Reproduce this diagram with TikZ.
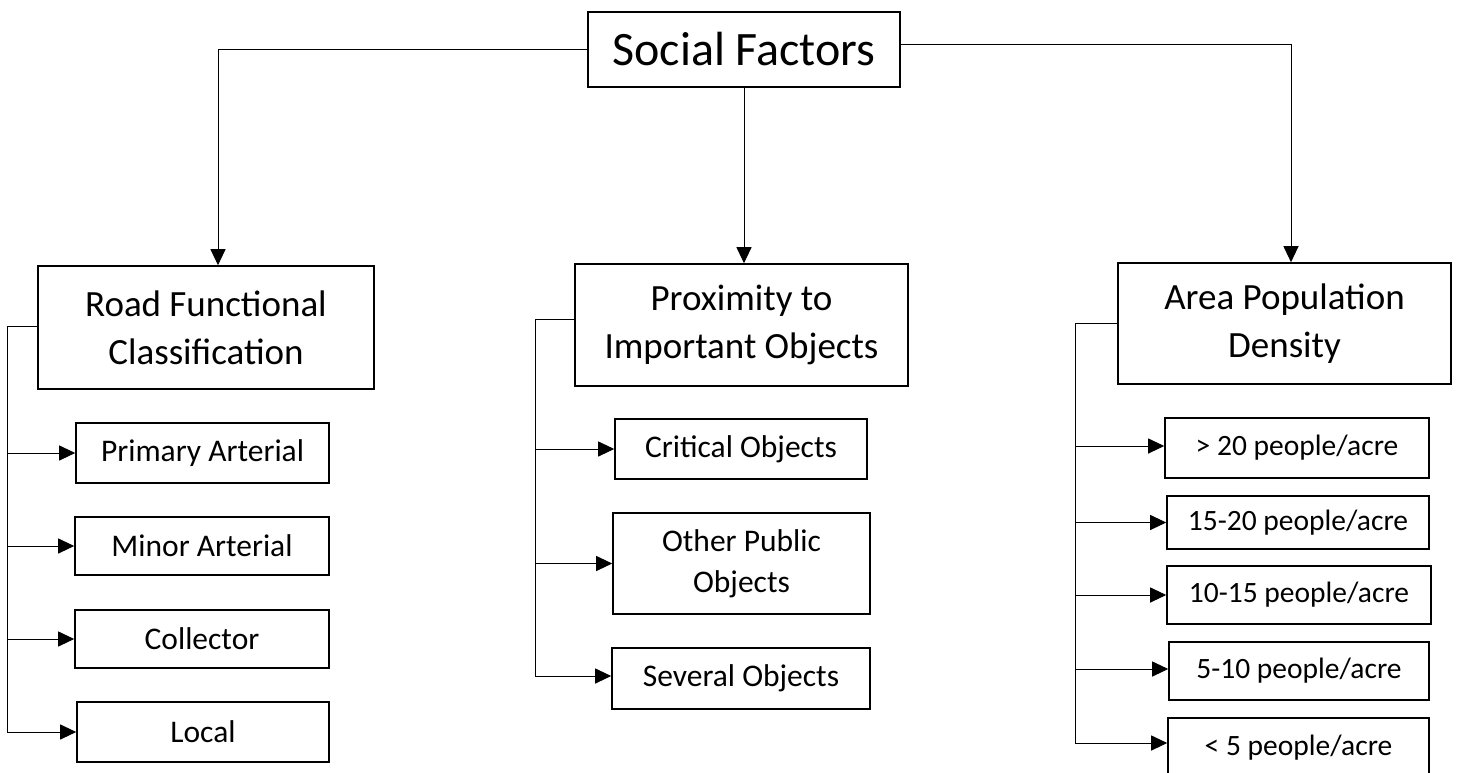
\documentclass[tikz,border=0pt]{standalone}
\usepackage{fontspec}
\setmainfont{Carlito}
\usetikzlibrary{arrows.meta}
\tikzset{
  box/.style={draw, line width=1.6pt, inner sep=0pt, align=center},
  rootbox/.style={box, font=\fontsize{48}{58}\selectfont},
  midbox/.style={box, font=\fontsize{37}{48}\selectfont},
  leafbox/.style={box, font=\fontsize{31.5}{41}\selectfont},
  denbox/.style={box, font=\fontsize{29.5}{38}\selectfont},
  conn/.style={line width=1pt},
  arr/.style={conn, -{Triangle[length=16pt,width=15pt]}}
}
\begin{document}
\begin{tikzpicture}[x=1pt,y=-1pt]
\useasboundingbox (0,0) rectangle (1459,772);
\clip (0,0) rectangle (1459,772);
\fill[white] (0,0) rectangle (1459,772);
% root
\node[rootbox, minimum width=312pt, minimum height=75pt] (sf) at (744,49.5) {Social Factors};
% level 2
\node[midbox, minimum width=336pt, minimum height=123pt] (rfc) at (206,327.5) {Road Functional\\Classification};
\node[midbox, minimum width=333pt, minimum height=122pt] (pio) at (741.5,325) {Proximity to\\Important Objects};
\node[midbox, minimum width=333pt, minimum height=121pt] (apd) at (1284.5,323.5) {Area Population\\Density};
% road leaves
\node[leafbox, minimum width=253pt, minimum height=60pt] (pa) at (202.5,453) {Primary Arterial};
\node[leafbox, minimum width=254pt, minimum height=58pt] (ma) at (202,546) {Minor Arterial};
\node[leafbox, minimum width=254pt, minimum height=58pt] (col) at (202,639) {Collector};
\node[leafbox, minimum width=252pt, minimum height=60pt] (loc) at (203,732) {Local};
% proximity leaves
\node[leafbox, minimum width=252pt, minimum height=60pt] (crit) at (741,449) {Critical Objects};
\node[leafbox, minimum width=257pt, minimum height=101pt] (opo) at (741.5,563.5) {Other Public\\Objects};
\node[leafbox, minimum width=258pt, minimum height=61pt] (sev) at (741,678.5) {Several Objects};
% density leaves
\node[denbox, minimum width=264pt, minimum height=60pt] (d20) at (1297,448) {> 20 people/acre};
\node[denbox, minimum width=262pt, minimum height=53pt] (d15) at (1298,522.5) {15-20 people/acre};
\node[denbox, minimum width=264pt, minimum height=58pt] (d10) at (1299,595) {10-15 people/acre};
\node[denbox, minimum width=260pt, minimum height=58pt] (d5) at (1299,671) {5-10 people/acre};
\node[denbox, minimum width=261pt, minimum height=60pt] (d0) at (1298.5,748) {< 5 people/acre};
% top connectors
\draw[arr] (sf.west) -| ([xshift=12pt]rfc.north);
\draw[arr] (sf.south) -- (sf.south |- pio.north);
\draw[arr] ([yshift=5.5pt]sf.east) -| ([xshift=6.5pt]apd.north);
% bracket coordinates
\coordinate (rb) at (7,0);
\coordinate (pb) at (535,0);
\coordinate (ab) at (1075,0);
% road bracket
\draw[arr] ([yshift=1.5pt]rfc.west) -- ([yshift=1.5pt]rfc.west -| rb) |- (loc.west);
\draw[arr] (pa.west -| rb) -- (pa.west);
\draw[arr] (ma.west -| rb) -- (ma.west);
\draw[arr] (col.west -| rb) -- (col.west);
% proximity bracket
\draw[arr] ([yshift=6pt]pio.west) -- ([yshift=6pt]pio.west -| pb) |- ([yshift=2.5pt]sev.west);
\draw[arr] (crit.west -| pb) -- (crit.west);
\draw[arr] (opo.west -| pb) -- (opo.west);
% density bracket
\draw[arr] (apd.west) -- (apd.west -| ab) |- ([yshift=5pt]d0.west);
\draw[arr] ([yshift=2pt]d20.west -| ab) -- ([yshift=2pt]d20.west);
\draw[arr] (d15.west -| ab) -- (d15.west);
\draw[arr] (d10.west -| ab) -- (d10.west);
\draw[arr] ([yshift=2pt]d5.west -| ab) -- ([yshift=2pt]d5.west);
\end{tikzpicture}
\end{document}
